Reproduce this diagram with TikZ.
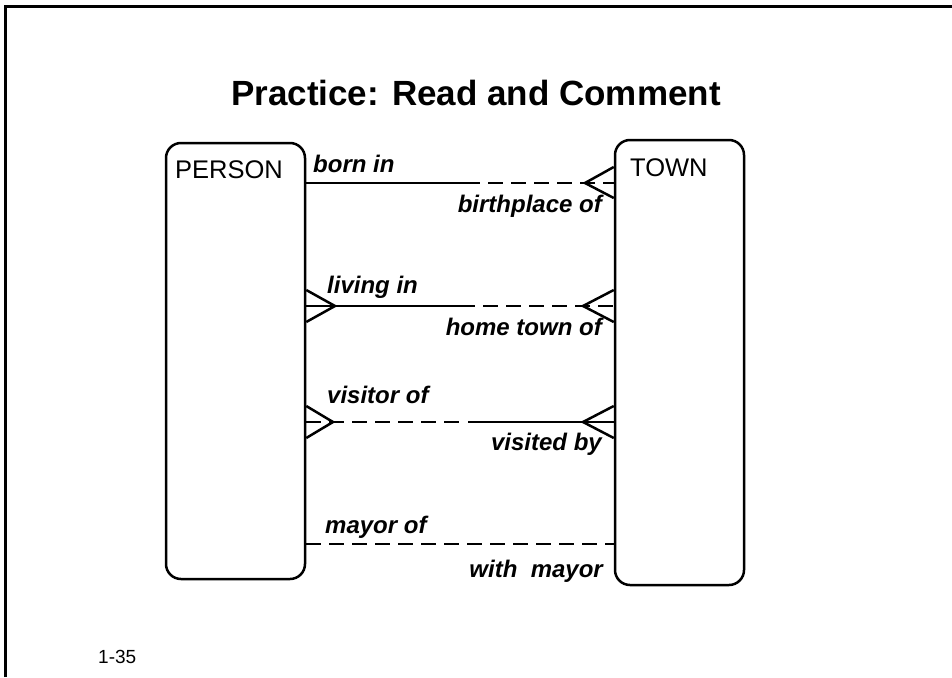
\documentclass[tikz,border=0pt]{standalone}
\usepackage{fontspec}
\setmainfont{Liberation Sans}
\usetikzlibrary{calc}
\begin{document}
\begin{tikzpicture}[x=1pt,y=-1pt,
  entity/.style={draw,line width=2.5pt,rounded corners=15pt,inner sep=0pt},
  ename/.style={anchor=base west,inner sep=0pt,font=\fontsize{25.5}{28}\selectfont},
  role/.style={inner sep=0pt,font=\fontsize{24}{28}\selectfont\bfseries\itshape},
  solidrel/.style={line width=2.8pt},
  dashrel/.style={line width=2.8pt,dash pattern=on 15pt off 8pt},
  foot/.style={line width=2.5pt}]
\useasboundingbox (0,0) rectangle (952,677);
% page frame
\draw[line width=3pt] (5,677) -- (5,7) -- (952,7);
% title
\node[inner sep=0pt,anchor=base,font=\fontsize{35}{40}\selectfont\bfseries] (title) at (476,105) {Practice: Read and Comment};
% entities
\node[entity,minimum width=139pt,minimum height=436pt] (person) at (235.5,361) {};
\node[entity,minimum width=129pt,minimum height=445pt] (town) at (679.5,362.5) {};
\node[ename] (personname) at (175,178) {PERSON};
\node[ename] (townname) at (630,176) {TOWN};
% relationship rows
\coordinate (r1) at (0,183);
\coordinate (r2) at (0,306);
\coordinate (r3) at (0,422);
\coordinate (r4) at (0,544);
% born in / birthplace of
\coordinate (m1) at (465,183);
\draw[solidrel] (person.east |- r1) -- (m1);
\draw[dashrel] (m1) -- (town.west |- r1);
\coordinate (f1) at (585,183);
\draw[foot] ($(town.west |- f1)+(0,-16)$) -- (f1) -- ($(town.west |- f1)+(0,15)$);
\node[role,anchor=base west] (l1a) at (313,172) {born in};
\node[role,anchor=base east] (l1b) at (602,212) {birthplace of};
% living in / home town of
\coordinate (m2) at (460,306);
\draw[solidrel] (person.east |- r2) -- (m2);
\draw[dashrel] (m2) -- (town.west |- r2);
\coordinate (g2) at (335,306);
\draw[foot] ($(person.east |- g2)+(0,-16)$) -- (g2) -- ($(person.east |- g2)+(0,16)$);
\coordinate (f2) at (583,306);
\draw[foot] ($(town.west |- f2)+(0,-16)$) -- (f2) -- ($(town.west |- f2)+(0,16)$);
\node[role,anchor=base west] (l2a) at (327,293) {living in};
\node[role,anchor=base east] (l2b) at (602,335) {home town of};
% visitor of / visited by
\coordinate (m3a) at (462,422);
\coordinate (m3b) at (468,422);
\draw[dashrel] (person.east |- r3) -- (m3a);
\draw[solidrel] (m3b) -- (town.west |- r3);
\coordinate (g3) at (333,422);
\draw[foot] ($(person.east |- g3)+(0,-16)$) -- (g3) -- ($(person.east |- g3)+(0,16)$);
\coordinate (f3) at (583,422);
\draw[foot] ($(town.west |- f3)+(0,-16)$) -- (f3) -- ($(town.west |- f3)+(0,16)$);
\node[role,anchor=base west] (l3a) at (327,403) {visitor of};
\node[role,anchor=base east] (l3b) at (602,450) {visited by};
% mayor of / with mayor
\draw[dashrel] (person.east |- r4) -- (town.west |- r4);
\node[role,anchor=base west] (l4a) at (325,533) {mayor of};
\node[role,anchor=base east] (l4b) at (603,577) {with\ \ mayor};
% page number
\node[inner sep=0pt,anchor=base west,font=\fontsize{19}{22}\selectfont] (pageno) at (98,663) {1-35};
\end{tikzpicture}
\end{document}
